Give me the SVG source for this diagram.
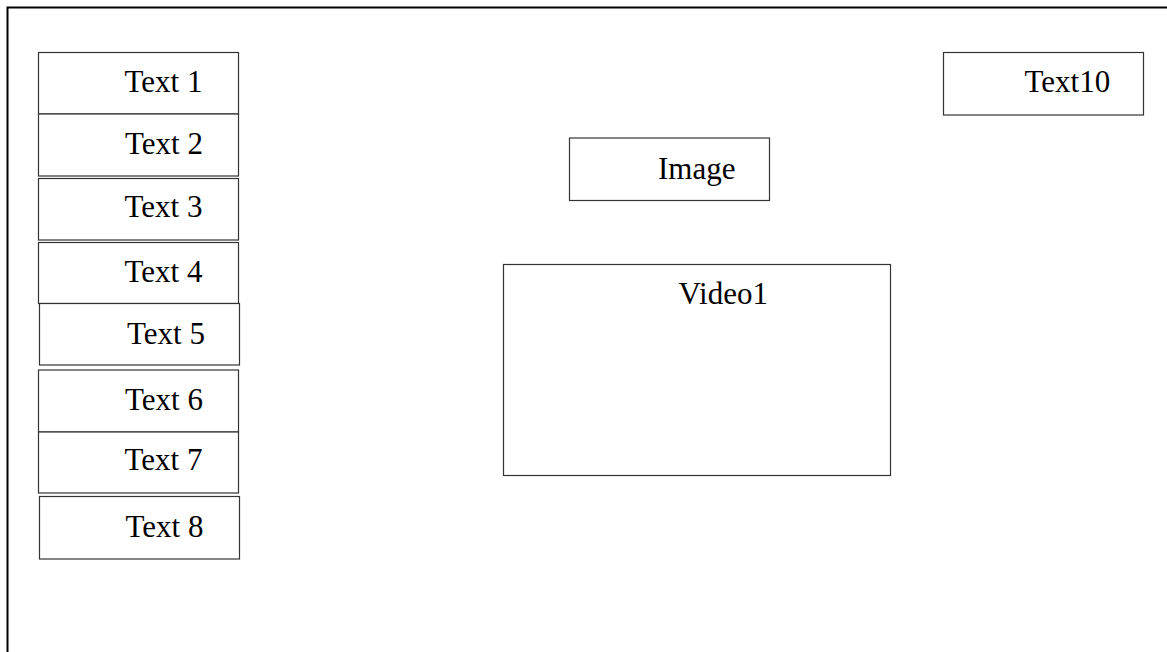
<svg xmlns="http://www.w3.org/2000/svg" width="1167" height="652" viewBox="0 0 1167 652">
<style>
.frame{fill:none;stroke:#000;stroke-width:2}
.box{fill:#fff;stroke:#333;stroke-width:1.2}
.lbl{font-family:"Liberation Serif","Times New Roman",serif;font-size:31px;fill:#000}
</style>
<rect width="1167" height="652" fill="#fff"/>
<rect class="frame" x="7.5" y="7.5" width="1200" height="700"/>
<g id="connectors"></g>
<g id="text1"><rect class="box" x="38.5" y="52.5" width="200" height="61.5"/><text class="lbl" x="124.5" y="91.5">Text 1</text></g>
<g id="text2"><rect class="box" x="38.5" y="114" width="200" height="62"/><text class="lbl" x="125" y="153.5">Text 2</text></g>
<g id="text3"><rect class="box" x="38.5" y="178.5" width="200" height="61.5"/><text class="lbl" x="124.5" y="216.5">Text 3</text></g>
<g id="text4"><rect class="box" x="38.5" y="242.5" width="200" height="61"/><text class="lbl" x="124.5" y="281.5">Text 4</text></g>
<g id="text5"><rect class="box" x="39.5" y="303.5" width="200" height="61.5"/><text class="lbl" x="127" y="343.5">Text 5</text></g>
<g id="text6"><rect class="box" x="38.5" y="370" width="200" height="62"/><text class="lbl" x="125" y="410">Text 6</text></g>
<g id="text7"><rect class="box" x="38.5" y="432" width="200" height="61"/><text class="lbl" x="124.5" y="470">Text 7</text></g>
<g id="text8"><rect class="box" x="39.5" y="496.5" width="200" height="62.5"/><text class="lbl" x="125.5" y="536.5">Text 8</text></g>
<g id="text10"><rect class="box" x="943.5" y="52.5" width="200" height="62.5"/><text class="lbl" x="1024.5" y="91.5">Text10</text></g>
<g id="image"><rect class="box" x="569.5" y="138" width="200" height="62.5"/><text class="lbl" x="658" y="178.5">Image</text></g>
<g id="video1"><rect class="box" x="503.5" y="264.5" width="387" height="211"/><text class="lbl" x="678.5" y="303.5">Video1</text></g>
</svg>
